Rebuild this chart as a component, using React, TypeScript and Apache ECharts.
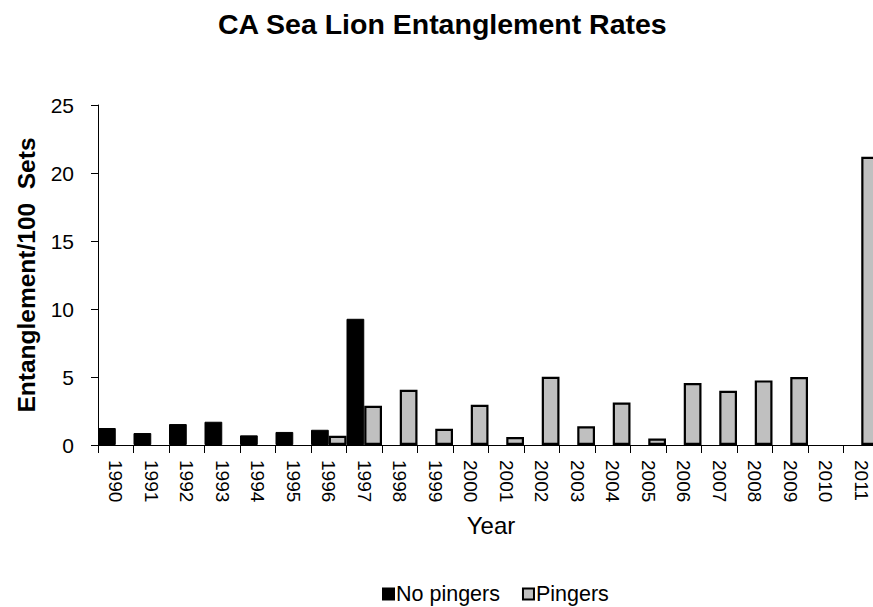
import React, { useEffect, useRef } from "react";
import * as echarts from "echarts";

const years = [
  "1990", "1991", "1992", "1993", "1994", "1995", "1996", "1997", "1998", "1999", "2000",
  "2001", "2002", "2003", "2004", "2005", "2006", "2007", "2008", "2009", "2010", "2011",
];

const noPingers: (number | null)[] = [
  1.25, 0.88, 1.54, 1.71, 0.71, 0.96, 1.12, 9.28, null, null, null,
  null, null, null, null, null, null, null, null, null, null, null,
];

const pingers: (number | null)[] = [
  null, null, null, null, null, null, 0.68, 2.89, 4.06, 1.2, 2.96,
  0.59, 5.02, 1.37, 3.13, 0.48, 4.55, 3.99, 4.75, 5.0, null, 21.2,
];

const yTicks = { min: 0, max: 25, interval: 5 };

const FONT = "'Liberation Sans', Arial, Helvetica, sans-serif";

export default function App() {
  const ref = useRef<HTMLDivElement>(null);

  useEffect(() => {
    if (!ref.current) return;
    const chart = echarts.init(ref.current, undefined, { renderer: "svg" });
    chart.setOption({
      animation: false,
      backgroundColor: "#ffffff",
      textStyle: { fontFamily: FONT, color: "#000" },
      title: {
        text: "CA Sea Lion Entanglement Rates",
        left: 213,
        top: 4,
        textStyle: { fontFamily: FONT, fontSize: 28.5, fontWeight: "bold", color: "#000" },
      },
      legend: {
        left: 377,
        top: 578,
        itemWidth: 11,
        itemHeight: 11,
        itemGap: 22,
        icon: "rect",
        textStyle: { fontFamily: FONT, fontSize: 21.5, color: "#000", padding: [0, 0, 0, -3] },
        data: ["No pingers", "Pingers"],
      },
      grid: { left: 98, top: 105, right: 0, bottom: 162, containLabel: false },
      xAxis: {
        type: "category",
        data: years,
        name: "Year",
        nameLocation: "middle",
        nameGap: 68,
        nameTextStyle: { fontFamily: FONT, fontSize: 24, color: "#000", padding: [0, 0, 0, 5] },
        axisLine: { show: true, lineStyle: { color: "#000", width: 1 } },
        axisTick: { show: true, interval: 0, length: 8, lineStyle: { color: "#000" } },
        axisLabel: {
          interval: 0,
          rotate: -90,
          margin: 15,
          fontFamily: FONT,
          fontSize: 19,
          color: "#000",
        },
        splitLine: { show: false },
      },
      yAxis: {
        type: "value",
        min: yTicks.min,
        max: yTicks.max,
        interval: yTicks.interval,
        name: "Entanglement/100  Sets",
        nameLocation: "middle",
        nameGap: 59,
        nameTextStyle: { fontFamily: FONT, fontSize: 24.5, fontWeight: "bold", color: "#000" },
        axisLine: { show: true, lineStyle: { color: "#000", width: 1 } },
        axisTick: { show: true, length: 7, lineStyle: { color: "#000" } },
        axisLabel: { margin: 24, fontFamily: FONT, fontSize: 21, color: "#000" },
        splitLine: { show: false },
      },
      series: [
        {
          name: "No pingers",
          type: "bar",
          data: noPingers,
          barGap: "0%",
          barCategoryGap: "0%",
          itemStyle: { color: "#000000", borderColor: "#000000", borderWidth: 1 },
        },
        {
          name: "Pingers",
          type: "bar",
          data: pingers,
          barGap: "0%",
          barCategoryGap: "0%",
          itemStyle: { color: "#c0c0c0", borderColor: "#000000", borderWidth: 2.2 },
        },
      ],
    });
    return () => chart.dispose();
  }, []);

  return (
    <div
      style={{
        position: "fixed",
        left: 0,
        top: 0,
        width: 873,
        height: 607,
        overflow: "hidden",
        background: "#fff",
      }}
    >
      <div ref={ref} style={{ width: 879, height: 607 }} />
    </div>
  );
}
